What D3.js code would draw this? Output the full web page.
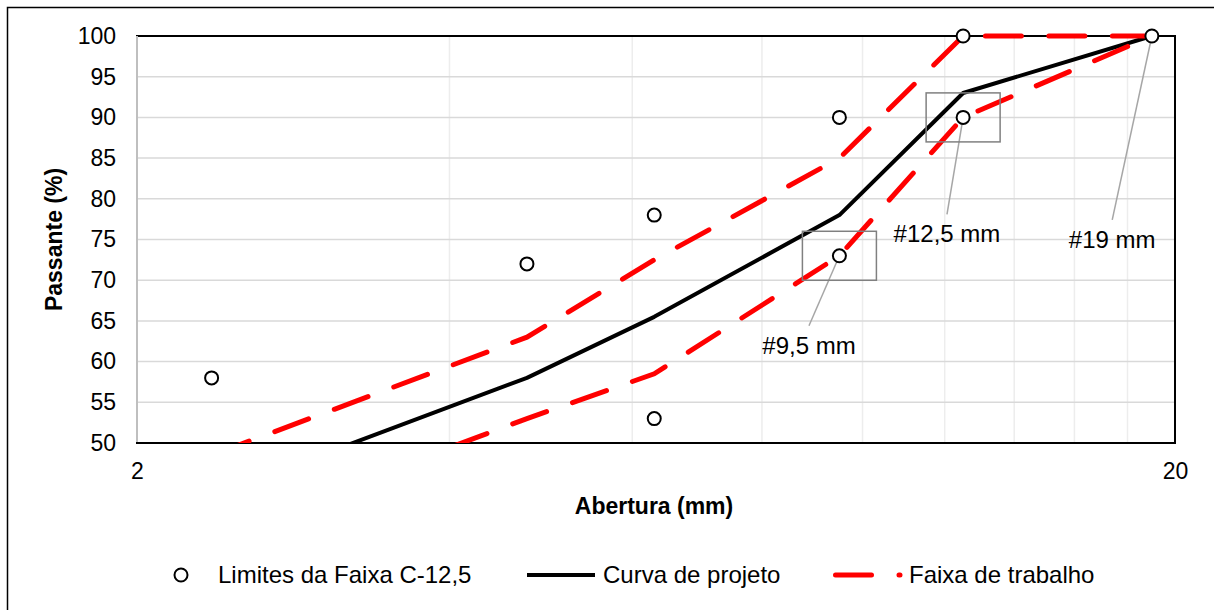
<!DOCTYPE html>
<html>
<head>
<meta charset="utf-8">
<script src="https://cdn.jsdelivr.net/npm/d3@7"></script>
<style>
  body { margin: 0; background: #fff; }
  svg text { font-family: "Liberation Sans", Arial, sans-serif; fill: #000; }
</style>
</head>
<body>
<div id="chart"></div>
<script>
// sieve openings (mm)
var sieves = [2.36, 4.75, 6.3, 9.5, 12.5, 19];

// Limites da Faixa C-12,5 (visible points only)
var limitSieves = [2.36, 4.75, 6.3, 6.3, 9.5, 9.5, 12.5, 12.5, 19];
var limitValues = [58, 72, 78, 53, 90, 73, 100, 90, 100];

// Curva de projeto
var curveValues = [43.5, 58, 65.5, 78, 93, 100];

// Faixa de trabalho
var upperValues = [48.5, 63, 72.5, 85, 100, 100];
var lowerValues = [38.5, 53, 58.5, 73, 90, 100];

var yTicks = [50, 55, 60, 65, 70, 75, 80, 85, 90, 95, 100];
var xTicks = [2, 20];
var xMinor = [4, 6, 8, 10, 12, 14, 16, 18];

// callouts: point, leader end (data units), label, boxed?
var notes = [
  {sieve: 9.5, value: 73, toX: 8.88, toY: 64.4, label: "#9,5 mm", box: true},
  {sieve: 12.5, value: 90, toX: 12.06, toY: 78.1, label: "#12,5 mm", box: true},
  {sieve: 19, value: 100, toX: 17.4, toY: 77.4, label: "#19 mm", box: false}
];

var W = 1214, H = 610;
var margin = {top: 36, right: 39, bottom: 167, left: 137},
    width = W - margin.left - margin.right,
    height = H - margin.top - margin.bottom;

var svg = d3.select("#chart").append("svg")
    .attr("width", W)
    .attr("height", H);

// outer frame (runs past right/bottom edge like the source)
svg.append("rect")
    .attr("x", 7.5).attr("y", 7.5)
    .attr("width", W + 10).attr("height", H + 10)
    .attr("fill", "#fff")
    .attr("stroke", "#000")
    .attr("stroke-width", 1.5);

var g = svg.append("g")
    .attr("transform", "translate(" + margin.left + "," + margin.top + ")");

var x = d3.scaleLog().base(10).domain([2, 20]).range([0, width]);
var y = d3.scaleLinear().domain([50, 100]).range([height, 0]);

g.append("clipPath").attr("id", "clip")
  .append("rect")
    .attr("x", 0).attr("y", -4)
    .attr("width", width + 4).attr("height", height + 4);

// gridlines
g.selectAll(".vgrid").data(xMinor).enter().append("line")
    .attr("x1", function(d) { return x(d); })
    .attr("x2", function(d) { return x(d); })
    .attr("y1", 0).attr("y2", height)
    .attr("stroke", "#ededed")
    .attr("stroke-width", 1.5);

g.selectAll(".hgrid").data(yTicks.slice(1, -1)).enter().append("line")
    .attr("x1", 0).attr("x2", width)
    .attr("y1", function(d) { return y(d); })
    .attr("y2", function(d) { return y(d); })
    .attr("stroke", "#d9d9d9")
    .attr("stroke-width", 1.5);

// plot border
g.append("rect")
    .attr("width", width).attr("height", height)
    .attr("fill", "none")
    .attr("stroke", "#000")
    .attr("stroke-width", 2);

g.append("line")
    .attr("x1", 0).attr("x2", 0)
    .attr("y1", 0).attr("y2", height)
    .attr("stroke", "#bfbfbf")
    .attr("stroke-width", 2);

g.append("line")
    .attr("x1", -1).attr("x2", width + 1)
    .attr("y1", height).attr("y2", height)
    .attr("stroke", "#000")
    .attr("stroke-width", 2);

// tick labels
var yAxis = d3.axisLeft(y).tickValues(yTicks).tickSize(0).tickPadding(21);
g.append("g").call(yAxis)
    .call(function(s) { s.select(".domain").remove(); })
    .selectAll("text")
    .style("font-size", "23px");

var xAxis = d3.axisBottom(x).tickValues(xTicks).tickSize(0).tickPadding(20)
    .tickFormat(d3.format("d"));
g.append("g").attr("transform", "translate(0," + height + ")").call(xAxis)
    .call(function(s) { s.select(".domain").remove(); })
    .selectAll("text")
    .style("font-size", "23px");

// axis titles
svg.append("text")
    .attr("x", 654)
    .attr("y", 514)
    .attr("text-anchor", "middle")
    .style("font-size", "23px")
    .style("font-weight", "bold")
    .text("Abertura (mm)");

svg.append("text")
    .attr("transform", "translate(62," + (margin.top + height / 2) + ") rotate(-90)")
    .attr("text-anchor", "middle")
    .style("font-size", "23px")
    .style("font-weight", "bold")
    .text("Passante (%)");

// lines
var line = d3.line()
    .x(function(d) { return x(d[0]); })
    .y(function(d) { return y(d[1]); });

var lines = g.append("g").attr("clip-path", "url(#clip)");

function pairs(vals) { return sieves.map(function(s, i) { return [s, vals[i]]; }); }

lines.append("path")
    .attr("d", line(pairs(curveValues)))
    .attr("fill", "none")
    .attr("stroke", "#000")
    .attr("stroke-width", 4)
    .attr("stroke-linejoin", "round");

[upperValues, lowerValues].forEach(function(vals) {
  lines.append("path")
      .attr("d", line(pairs(vals)))
      .attr("fill", "none")
      .attr("stroke", "#ff0000")
      .attr("stroke-width", 5)
      .attr("stroke-linecap", "round")
      .attr("stroke-dasharray", "36,27.5")
      .attr("stroke-dashoffset", -4);
});

// callout leaders
g.selectAll(".leader").data(notes).enter().append("line")
    .attr("x1", function(d) { return x(d.sieve); })
    .attr("y1", function(d) { return y(d.value); })
    .attr("x2", function(d) { return x(d.toX); })
    .attr("y2", function(d) { return y(d.toY); })
    .attr("stroke", "#a6a6a6")
    .attr("stroke-width", 1.5);

// limit points
g.selectAll(".pt").data(limitValues).enter().append("circle")
    .attr("cx", function(d, i) { return x(limitSieves[i]); })
    .attr("cy", function(d) { return y(d); })
    .attr("r", 6.5)
    .attr("fill", "#fff")
    .attr("stroke", "#000")
    .attr("stroke-width", 2);

// callout boxes and labels
g.selectAll(".box").data(notes.filter(function(d) { return d.box; })).enter().append("rect")
    .attr("x", function(d) { return x(d.sieve) - 37; })
    .attr("y", function(d) { return y(d.value) - 24.5; })
    .attr("width", 74).attr("height", 49)
    .attr("fill", "none")
    .attr("stroke", "#808080")
    .attr("stroke-width", 1.5);

g.selectAll(".note").data(notes).enter().append("text")
    .attr("x", function(d) { return x(d.toX); })
    .attr("y", function(d) { return y(d.toY) + 28; })
    .attr("text-anchor", "middle")
    .style("font-size", "24px")
    .text(function(d) { return d.label; });

// legend
var ly = 575;
var leg = svg.append("g");
leg.append("circle").attr("cx", 181).attr("cy", ly).attr("r", 6.5)
    .attr("fill", "#fff").attr("stroke", "#000").attr("stroke-width", 2);
leg.append("text").attr("x", 218).attr("y", ly).attr("dy", "0.35em")
    .style("font-size", "24px").text("Limites da Faixa C-12,5");
leg.append("line").attr("x1", 527).attr("x2", 595).attr("y1", ly).attr("y2", ly)
    .attr("stroke", "#000").attr("stroke-width", 4);
leg.append("text").attr("x", 603).attr("y", ly).attr("dy", "0.35em")
    .style("font-size", "24px").text("Curva de projeto");
leg.append("line").attr("x1", 835.5).attr("x2", 900).attr("y1", ly).attr("y2", ly)
    .attr("stroke", "#ff0000").attr("stroke-width", 5)
    .attr("stroke-linecap", "round").attr("stroke-dasharray", "36,27.5");
leg.append("text").attr("x", 909).attr("y", ly).attr("dy", "0.35em")
    .style("font-size", "24px").text("Faixa de trabalho");
</script>
</body>
</html>
